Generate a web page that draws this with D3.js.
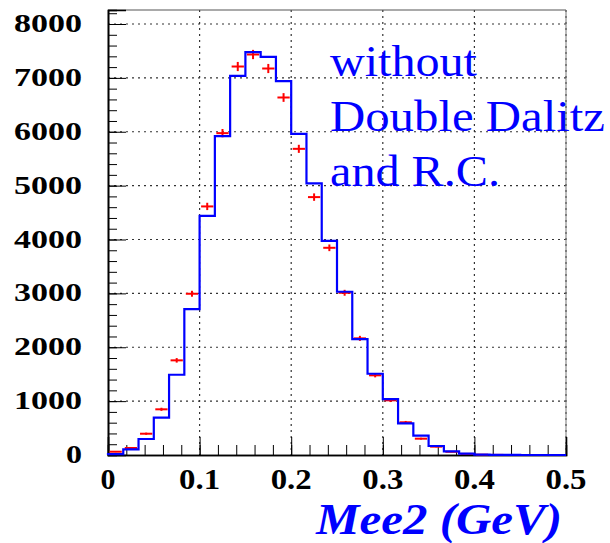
<!DOCTYPE html>
<html>
<head>
<meta charset="utf-8">
<script src="https://cdn.jsdelivr.net/npm/d3@7"></script>
<style>
  html, body { margin: 0; padding: 0; background: #fff; }
  svg { display: block; }
  svg text { font-family: "Liberation Serif", "Times New Roman", Times, serif; }
</style>
</head>
<body>
<svg id="chart" width="610" height="543"></svg>
<script>
// ---- data ----
const xMin = 0, xMax = 0.5, nBins = 30;
// blue histogram (simulation), counts per bin of width 1/60 GeV
const mcValues = [15, 105, 297, 692, 1490, 2709, 4440, 5918, 7037, 7477, 7390, 6939, 5961, 5041, 3976,
                  3030, 2152, 1508, 1039, 588, 358, 167, 68, 24, 8, 3, 1, 0, 0, 0];
// red points (data) with errors
const dataValues = [61, 130, 395, 848, 1757, 2993, 4614, 5974, 7211, 7434, 7174, 6636, 5683, 4787, 3846,
                    3011, 2165, 1479, 1015, 607, 303, 155, 60, 20, 6, 2, 0, 0, 0, 0];
const dataErrors = [8, 11, 20, 29, 42, 55, 68, 77, 85, 86, 85, 81, 75, 69, 62,
                    55, 47, 38, 32, 25, 17, 12, 8, 4, 2, 1, 0, 0, 0, 0];
const xTicks = [0, 0.1, 0.2, 0.3, 0.4, 0.5];
const xTickLabels = ["0", "0.1", "0.2", "0.3", "0.4", "0.5"];
const yTicks = [0, 1000, 2000, 3000, 4000, 5000, 6000, 7000, 8000];
const yTickLabels = ["0", "1000", "2000", "3000", "4000", "5000", "6000", "7000", "8000"];
const annotation = ["without", "Double Dalitz", "and R.C."];
const xTitle = "Mee2 (GeV)";

// ---- layout ----
const svg = d3.select("#chart");
const L = 108, R = 566, T = 10, B = 455;
const x = d3.scaleLinear().domain([xMin, xMax]).range([L, R]);
const y = d3.scaleLinear().domain([0, 8260]).range([B, T]);
const binW = (xMax - xMin) / nBins;
const edges = d3.range(nBins + 1).map(i => xMin + i * binW);

// grid lines
const grid = svg.append("g");
grid.selectAll("line.gx").data(xTicks.filter(t => t > 0)).join("line")
  .attr("x1", d => x(d)).attr("x2", d => x(d)).attr("y1", T).attr("y2", B)
  .attr("stroke", "#333").attr("stroke-width", 1.2).attr("stroke-dasharray", "2,4");
grid.selectAll("line.gy").data(yTicks.filter(t => t > 0)).join("line")
  .attr("x1", L).attr("x2", R).attr("y1", d => y(d)).attr("y2", d => y(d))
  .attr("stroke", "#333").attr("stroke-width", 1.2).attr("stroke-dasharray", "2,4");

// frame top/right
svg.append("line").attr("x1", L).attr("x2", R).attr("y1", T).attr("y2", T).attr("stroke", "#555").attr("stroke-width", 1);
svg.append("line").attr("x1", R).attr("x2", R).attr("y1", T).attr("y2", B).attr("stroke", "#777").attr("stroke-width", 1);

// axes with ticks (drawn using d3 axes)
const xMajor = d3.axisTop(x).tickValues(xTicks).tickSize(18).tickFormat("");
const xMinor = d3.axisTop(x).tickValues(d3.range(0, 0.5001, 0.02)).tickSize(10).tickFormat("");
const gx1 = svg.append("g").attr("transform", `translate(0,${B})`).call(xMinor);
const gx2 = svg.append("g").attr("transform", `translate(0,${B})`).call(xMajor);
const yMajor = d3.axisRight(y).tickValues(yTicks).tickSize(18).tickFormat("");
const yMinor = d3.axisRight(y).tickValues(d3.range(0, 8201, 200)).tickSize(9).tickFormat("");
const gy1 = svg.append("g").attr("transform", `translate(${L},0)`).call(yMinor);
const gy2 = svg.append("g").attr("transform", `translate(${L},0)`).call(yMajor);
[gx1, gx2, gy1, gy2].forEach(g => {
  g.select(".domain").attr("stroke", "#000").attr("stroke-width", 1.6);
  g.selectAll(".tick line").attr("stroke", "#000").attr("stroke-width", 1);
});

// red data points
const pts = svg.append("g");
dataValues.forEach((v, i) => {
  if (v <= 0) return;
  const cx = x(edges[i] + binW / 2);
  pts.append("line")
    .attr("x1", x(edges[i]) + 1.5).attr("x2", x(edges[i + 1]) - 1.5)
    .attr("y1", y(v)).attr("y2", y(v))
    .attr("stroke", "#ff0000").attr("stroke-width", 2);
  pts.append("line")
    .attr("x1", cx).attr("x2", cx)
    .attr("y1", y(v - dataErrors[i])).attr("y2", y(v + dataErrors[i]))
    .attr("stroke", "#ff0000").attr("stroke-width", 2);
});

// blue step histogram
const pathPts = [[x(edges[0]), y(0)]];
mcValues.forEach((v, i) => {
  pathPts.push([x(edges[i]), y(v)]);
  pathPts.push([x(edges[i + 1]), y(v)]);
});
svg.append("path")
  .attr("d", d3.line()(pathPts))
  .attr("fill", "none").attr("stroke", "#0000ff").attr("stroke-width", 2.2)
  .attr("stroke-linejoin", "miter");

// y tick labels
const yW = d => d.length === 1 ? 16 : 68;
svg.append("g").selectAll("text").data(yTicks).join("text")
  .attr("x", (d, i) => 82 - yW(yTickLabels[i]))
  .attr("y", d => y(d) + 8)
  .attr("textLength", (d, i) => yW(yTickLabels[i]))
  .attr("lengthAdjust", "spacingAndGlyphs")
  .attr("font-weight", "bold").attr("font-size", 26)
  .attr("fill", "#000")
  .text((d, i) => yTickLabels[i]);

// x tick labels
const xW = d => d.length === 1 ? 15 : 41;
svg.append("g").selectAll("text").data(xTicks).join("text")
  .attr("x", (d, i) => x(d) - xW(xTickLabels[i]) / 2)
  .attr("y", 488.5)
  .attr("textLength", (d, i) => xW(xTickLabels[i]))
  .attr("lengthAdjust", "spacingAndGlyphs")
  .attr("font-weight", "bold").attr("font-size", 29.5)
  .attr("fill", "#000")
  .text((d, i) => xTickLabels[i]);

// x title
svg.append("text")
  .attr("x", 316).attr("y", 534)
  .attr("textLength", 246).attr("lengthAdjust", "spacingAndGlyphs")
  .attr("font-weight", "bold").attr("font-style", "italic")
  .attr("font-size", 44).attr("fill", "#0000ff")
  .text(xTitle);

// annotation
const annY = [75.7, 131, 185.7];
const annW = [147, 275, 170];
svg.append("g").selectAll("text").data(annotation).join("text")
  .attr("x", 330).attr("y", (d, i) => annY[i])
  .attr("textLength", (d, i) => annW[i]).attr("lengthAdjust", "spacingAndGlyphs")
  .attr("font-size", 45).attr("fill", "#0000ff")
  .text(d => d);
</script>
</body>
</html>
